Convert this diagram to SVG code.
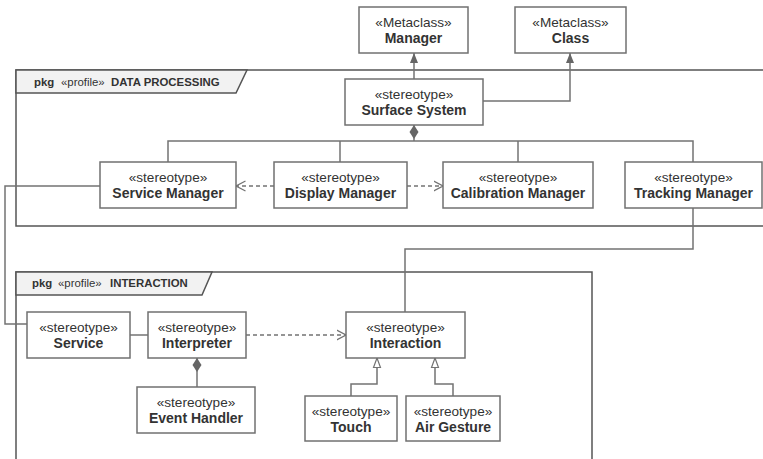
<svg xmlns="http://www.w3.org/2000/svg" width="763" height="459" viewBox="0 0 763 459">
  <style>
    .box { fill: #ffffff; stroke: #707070; stroke-width: 1.5; }
    .frame { fill: none; stroke: #555555; stroke-width: 1.5; }
    .tab { fill: #f2f2f2; stroke: #555555; stroke-width: 1.5; }
    .st { font-family: "Liberation Sans", Arial, sans-serif; font-size: 13.6px; fill: #333333; text-anchor: middle; }
    .nm { font-family: "Liberation Sans", Arial, sans-serif; font-size: 14px; font-weight: bold; fill: #333333; text-anchor: middle; }
    .pk { font-family: "Liberation Sans", Arial, sans-serif; font-size: 11.4px; fill: #333333; }
    .b { font-weight: bold; }
    .ln { fill: none; stroke: #737373; stroke-width: 1.5; }
    .dash { fill: none; stroke: #737373; stroke-width: 1.5; stroke-dasharray: 4 3; }
  </style>
  <defs>
    <marker id="ext" viewBox="0 0 10 10" refX="10" refY="5" markerWidth="10" markerHeight="10" markerUnits="userSpaceOnUse" orient="auto">
      <path d="M0,1 L10,5 L0,9 Z" fill="#666666"/>
    </marker>
    <marker id="gen" viewBox="0 0 11 10" refX="10" refY="5" markerWidth="11" markerHeight="10" markerUnits="userSpaceOnUse" orient="auto">
      <path d="M0.5,1.5 L10,5 L0.5,8.5 Z" fill="#ffffff" stroke="#737373" stroke-width="1.2"/>
    </marker>
    <marker id="dep" viewBox="0 0 10 12" refX="9.5" refY="6" markerWidth="10" markerHeight="12" markerUnits="userSpaceOnUse" orient="auto">
      <path d="M0,1 L9.5,6 L0,11" fill="none" stroke="#737373" stroke-width="1.3"/>
    </marker>
    <marker id="comp" viewBox="0 0 16 10" refX="0" refY="5" markerWidth="16" markerHeight="10" markerUnits="userSpaceOnUse" orient="auto">
      <path d="M0,5 L7,0.5 L14,5 L7,9.5 Z" fill="#666666"/>
    </marker>
  </defs>

  <!-- package frames -->
  <g id="pkg-data-processing">
    <rect class="frame" x="16" y="70" width="760" height="156"/>
    <path class="tab" d="M16,70 L247,70 L236,93 L16,93 Z"/>
    <text class="pk" x="34" y="86"><tspan class="b">pkg</tspan><tspan x="61">«profile»</tspan><tspan class="b" x="111">DATA PROCESSING</tspan></text>
  </g>
  <g id="pkg-interaction">
    <rect class="frame" x="16" y="272" width="576" height="200"/>
    <path class="tab" d="M16,272 L212,272 L202,295 L16,295 Z"/>
    <text class="pk" x="32" y="287"><tspan class="b">pkg</tspan><tspan x="58">«profile»</tspan><tspan class="b" x="110">INTERACTION</tspan></text>
  </g>

  <!-- connectors -->
  <g id="connectors">
    <!-- extensions -->
    <path class="ln" d="M414,79 L414,53" marker-end="url(#ext)"/>
    <path class="ln" d="M483,101 L570,101 L570,53" marker-end="url(#ext)"/>
    <!-- composition tree from Surface System -->
    <path class="ln" d="M414,125 L414,141" marker-start="url(#comp)"/>
    <path class="ln" d="M168,162 L168,141 L693,141 L693,162"/>
    <path class="ln" d="M340,141 L340,162"/>
    <path class="ln" d="M518,141 L518,162"/>
    <!-- dependencies -->
    <path class="dash" d="M274,186 L236,186" marker-end="url(#dep)"/>
    <path class="dash" d="M407,186 L443,186" marker-end="url(#dep)"/>
    <path class="dash" d="M246,335 L346,335" marker-end="url(#dep)"/>
    <!-- associations -->
    <path class="ln" d="M100,186 L5,186 L5,324 L27,324"/>
    <path class="ln" d="M693,208 L693,249 L405,249 L405,312"/>
    <path class="ln" d="M130,335 L148,335"/>
    <!-- Interpreter composition -->
    <path class="ln" d="M197,358 L197,387" marker-start="url(#comp)"/>
    <!-- generalizations -->
    <path class="ln" d="M351,396 L351,384 L377,384 L377,358" marker-end="url(#gen)"/>
    <path class="ln" d="M453,396 L453,384 L435,384 L435,358" marker-end="url(#gen)"/>
  </g>

  <!-- nodes -->
  <g id="manager">
    <rect class="box" x="359" y="7" width="109" height="46"/>
    <text class="st" x="413.5" y="27">«Metaclass»</text>
    <text class="nm" x="413.5" y="43">Manager</text>
  </g>
  <g id="class">
    <rect class="box" x="515" y="7" width="111" height="46"/>
    <text class="st" x="570.5" y="27">«Metaclass»</text>
    <text class="nm" x="570.5" y="43">Class</text>
  </g>
  <g id="surface-system">
    <rect class="box" x="345" y="79" width="138" height="46"/>
    <text class="st" x="414" y="99">«stereotype»</text>
    <text class="nm" x="414" y="115">Surface System</text>
  </g>
  <g id="service-manager">
    <rect class="box" x="100" y="162" width="136" height="46"/>
    <text class="st" x="168" y="182">«stereotype»</text>
    <text class="nm" x="168" y="198">Service Manager</text>
  </g>
  <g id="display-manager">
    <rect class="box" x="274" y="162" width="133" height="46"/>
    <text class="st" x="340.5" y="182">«stereotype»</text>
    <text class="nm" x="340.5" y="198">Display Manager</text>
  </g>
  <g id="calibration-manager">
    <rect class="box" x="443" y="162" width="150" height="46"/>
    <text class="st" x="518" y="182">«stereotype»</text>
    <text class="nm" x="518" y="198">Calibration Manager</text>
  </g>
  <g id="tracking-manager">
    <rect class="box" x="625" y="162" width="137" height="46"/>
    <text class="st" x="693.5" y="182">«stereotype»</text>
    <text class="nm" x="693.5" y="198">Tracking Manager</text>
  </g>
  <g id="service">
    <rect class="box" x="27" y="312" width="103" height="46"/>
    <text class="st" x="78.5" y="332">«stereotype»</text>
    <text class="nm" x="78.5" y="348">Service</text>
  </g>
  <g id="interpreter">
    <rect class="box" x="148" y="312" width="98" height="46"/>
    <text class="st" x="197" y="332">«stereotype»</text>
    <text class="nm" x="197" y="348">Interpreter</text>
  </g>
  <g id="interaction">
    <rect class="box" x="346" y="312" width="119" height="46"/>
    <text class="st" x="405.5" y="332">«stereotype»</text>
    <text class="nm" x="405.5" y="348">Interaction</text>
  </g>
  <g id="event-handler">
    <rect class="box" x="137" y="387" width="118" height="46"/>
    <text class="st" x="196" y="407">«stereotype»</text>
    <text class="nm" x="196" y="423">Event Handler</text>
  </g>
  <g id="touch">
    <rect class="box" x="305" y="396" width="92" height="45"/>
    <text class="st" x="351" y="416">«stereotype»</text>
    <text class="nm" x="351" y="432">Touch</text>
  </g>
  <g id="air-gesture">
    <rect class="box" x="406" y="396" width="94" height="45"/>
    <text class="st" x="453" y="416">«stereotype»</text>
    <text class="nm" x="453" y="432">Air Gesture</text>
  </g>
</svg>
